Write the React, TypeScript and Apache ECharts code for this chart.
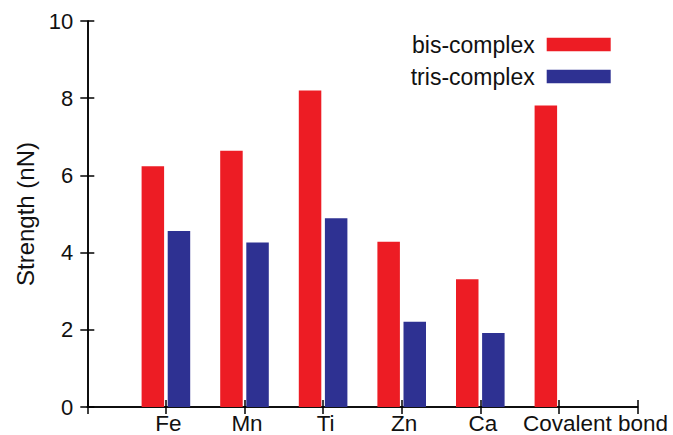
import React, { useEffect, useRef } from "react";
import * as echarts from "echarts";

const categories = ["Fe", "Mn", "Ti", "Zn", "Ca", "Covalent bond"];
const bisValues: (number | null)[] = [6.24, 6.64, 8.2, 4.28, 3.31, 7.81];
const trisValues: (number | null)[] = [4.56, 4.26, 4.89, 2.21, 1.92, null];
const yTicks = [0, 2, 4, 6, 8, 10];

const FONT = "'Liberation Sans', Arial, Helvetica, sans-serif";
const RED = "#ED1C24";
const BLUE = "#2E3192";

export default function App() {
  const ref = useRef<HTMLDivElement>(null);
  useEffect(() => {
    if (!ref.current) return;
    const chart = echarts.init(ref.current, undefined, { renderer: "svg" });
    const axisLine = { show: true, lineStyle: { color: "#000", width: 1.5 } };
    const axisTick = { show: true, inside: true, length: 7, lineStyle: { color: "#000", width: 1.5 } };
    const lastIdx = categories.length - 1;
    chart.setOption({
      animation: false,
      backgroundColor: "#fff",
      textStyle: { fontFamily: FONT },
      grid: { left: 87.3, right: 35.5, top: 21, bottom: 26.7, containLabel: false },
      legend: {
        orient: "vertical",
        right: 62.3,
        top: 33,
        padding: 0,
        align: "right",
        icon: "rect",
        itemWidth: 64,
        itemHeight: 13.4,
        itemGap: 9,
        textStyle: { fontSize: 23, color: "#111", lineHeight: 22, padding: [0, 7, 0, 0], fontFamily: FONT },
        data: ["bis-complex", "tris-complex"],
      },
      xAxis: [
        {
          type: "value",
          min: 0,
          max: 7,
          interval: 1,
          position: "bottom",
          splitLine: { show: false },
          axisLine,
          axisTick,
          axisLabel: {
            margin: 5,
            fontSize: 22.5,
            color: "#111",
            fontFamily: FONT,
            formatter: (v: number) => {
              const i = Math.round(v) - 1;
              if (i < 0 || i >= lastIdx) return "";
              return "{n|" + categories[i] + "}";
            },
            rich: { n: { fontSize: 22.5, color: "#111", fontFamily: FONT, padding: [0, 0, 0, 5] } },
          },
        },
        {
          type: "value",
          min: 0,
          max: 7,
          interval: 1,
          position: "top",
          splitLine: { show: false },
          axisLine,
          axisTick,
          axisLabel: { show: false },
        },
      ],
      yAxis: [
        {
          type: "value",
          min: yTicks[0],
          max: yTicks[yTicks.length - 1],
          interval: 2,
          position: "left",
          splitLine: { show: false },
          axisLine,
          axisTick,
          axisLabel: { margin: 14, fontSize: 22, color: "#111", fontFamily: FONT },
          name: "Strength (nN)",
          nameLocation: "middle",
          nameRotate: 90,
          nameGap: 47,
          nameTextStyle: { fontSize: 24, color: "#111", fontFamily: FONT },
        },
        {
          type: "value",
          min: yTicks[0],
          max: yTicks[yTicks.length - 1],
          interval: 2,
          position: "right",
          splitLine: { show: false },
          axisLine,
          axisTick,
          axisLabel: { show: false },
        },
      ],
      graphic: [
        {
          type: "text",
          x: 523,
          y: 423.5,
          silent: true,
          style: {
            text: categories[lastIdx],
            font: "22.5px 'Liberation Sans', Arial, sans-serif",
            fill: "#111",
            verticalAlign: "middle",
            align: "left",
          },
        },
      ],
      series: [
        {
          name: "bis-complex",
          type: "bar",
          barWidth: 22.5,
          barGap: "16%",
          itemStyle: { color: RED },
          data: bisValues.map((v, i) => [i + 1, v]),
        },
        {
          name: "tris-complex",
          type: "bar",
          barWidth: 22.5,
          barGap: "16%",
          itemStyle: { color: BLUE },
          data: trisValues.map((v, i) => [i + 1, v === null ? "-" : v]),
        },
      ],
    });
    return () => chart.dispose();
  }, []);
  return <div ref={ref} style={{ width: 673, height: 435, position: "absolute", left: 0, top: 0 }} />;
}
